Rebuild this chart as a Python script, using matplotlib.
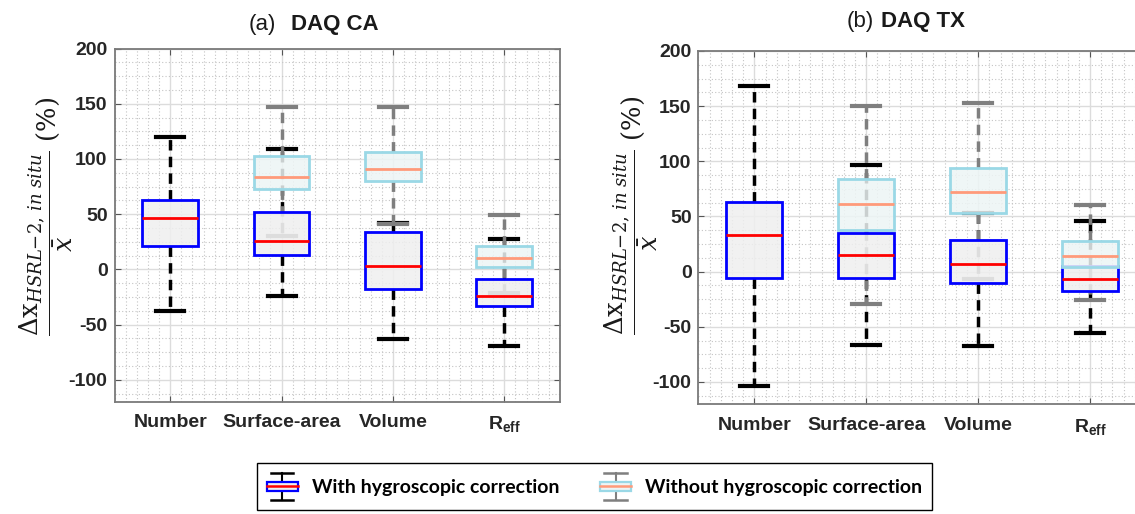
import matplotlib
matplotlib.use('Agg')
import matplotlib.pyplot as plt
from matplotlib.colors import to_rgba
from matplotlib.legend_handler import HandlerBase
from matplotlib.lines import Line2D
from matplotlib.patches import Rectangle
from matplotlib.ticker import MultipleLocator

plt.rcParams['font.family'] = ['Liberation Sans', 'DejaVu Sans']
plt.rcParams['axes.unicode_minus'] = False
plt.rcParams['mathtext.fontset'] = 'custom'
plt.rcParams['mathtext.rm'] = 'DejaVu Serif'
plt.rcParams['mathtext.it'] = 'DejaVu Serif:italic'
plt.rcParams['mathtext.bf'] = 'Liberation Sans:bold'

categories = ['Number', 'Surface-area', 'Volume', r'$\mathbf{R_{eff}}$']
stat_keys = ['whislo', 'q1', 'med', 'q3', 'whishi']

# [whisker low, q1, median, q3, whisker high] in %
ca_with = [[-38, 21, 47, 63, 120],
           [-24, 13.5, 26, 52, 109],
           [-63, -18, 3.5, 34, 42],
           [-69, -33, -24, -9, 28]]
# number is not affected by the correction -> only the last three
ca_without = [[30, 73, 84, 103, 147],
              [41, 80, 90.5, 106, 147],
              [-21, 2, 10, 21.5, 49]]

tx_with = [[-104, -6, 33, 63, 168],
           [-66.5, -6, 15.5, 35, 97],
           [-67.5, -10, 7, 28.5, 53],
           [-55.5, -17.5, -7, 5, 46]]
tx_without = [[-29, 38, 61.5, 84, 150],
              [-7, 53, 72.5, 94, 153],
              [-26, 4.5, 14.5, 27.5, 60]]

ylabel = r'$\dfrac{\Delta\mathrm{x}_{HSRL{-}2,\,in\ situ}}{\bar{x}}\ (\%)$'


def to_stats(rows):
    return [dict(zip(stat_keys, r), fliers=[]) for r in rows]


def draw_series(ax, rows, positions, edge, face, median, whisk, z):
    parts = ax.bxp(to_stats(rows), positions=positions, widths=0.5, capwidths=0.25,
                   patch_artist=True, showfliers=False,
                   boxprops=dict(facecolor=to_rgba(face, 0.85), edgecolor=edge, linewidth=2),
                   medianprops=dict(color=median, linewidth=2),
                   whiskerprops=dict(color=whisk, linewidth=2.5, linestyle=(0, (3, 1.8))),
                   capprops=dict(color=whisk, linewidth=3))
    for a in parts['whiskers'] + parts['caps']:
        a.set_zorder(2)
    for a in parts['boxes']:
        a.set_zorder(z)
    for a in parts['medians']:
        a.set_zorder(z + 0.5)


def style_axes(ax):
    ax.set_xlim(0.5, 4.5)
    ax.set_ylim(-120, 200)
    ax.set_xticks([1, 2, 3, 4])
    ax.set_xticklabels(categories)
    ax.set_yticks([-100, -50, 0, 50, 100, 150, 200])
    ax.yaxis.set_minor_locator(MultipleLocator(12.5))
    ax.xaxis.set_minor_locator(MultipleLocator(0.1))
    ax.grid(which='major', color='#dcdcdc', linewidth=1.0, linestyle='-')
    ax.grid(which='minor', color='#c4c4c4', linewidth=0.8, linestyle=(0, (1, 2)))
    ax.set_axisbelow(True)
    ax.tick_params(which='major', direction='in', length=4, top=True, right=True,
                   color='#555555', labelsize=14, labelcolor='#262626')
    ax.tick_params(which='minor', direction='in', length=0)
    ax.tick_params(axis='x', pad=9)
    ax.tick_params(axis='y', pad=5)
    for lab in ax.get_xticklabels() + ax.get_yticklabels():
        lab.set_fontweight('bold')
    for s in ax.spines.values():
        s.set_color('#7a7a7a')
        s.set_linewidth(1.3)


class BoxGlyph:
    def __init__(self, edge, face, median, whisk):
        self.edge, self.face, self.median, self.whisk = edge, face, median, whisk


class BoxGlyphHandler(HandlerBase):
    def create_artists(self, legend, h, xdescent, ydescent, width, height, fontsize, trans):
        x0, y0 = -xdescent, -ydescent
        cx = x0 + width / 2
        bl, bt = y0 + 0.34 * height, y0 + 0.66 * height
        cw = 0.36 * width
        arts = [
            Line2D([cx, cx], [y0, bl], color=h.whisk, lw=1.5),
            Line2D([cx, cx], [bt, y0 + height], color=h.whisk, lw=1.5),
            Line2D([cx - cw, cx + cw], [y0, y0], color=h.whisk, lw=1.8),
            Line2D([cx - cw, cx + cw], [y0 + height, y0 + height], color=h.whisk, lw=1.8),
            Rectangle((x0, bl), width, bt - bl, facecolor=h.face, edgecolor=h.edge, lw=1.6),
            Line2D([x0, x0 + width], [(bl + bt) / 2] * 2, color=h.median, lw=1.8),
        ]
        for a in arts:
            a.set_transform(trans)
        return arts


fig = plt.figure(figsize=(11.35, 5.14), dpi=100)
ax1 = fig.add_axes([0.1009, 0.2179, 0.3925, 0.6877])
ax2 = fig.add_axes([0.6154, 0.2140, 0.3943, 0.6868])

blue = dict(edge='#0000ff', face='#efefef', median='#ff0000', whisk='black')
cyan = dict(edge='#9ad8e6', face='#edf5f5', median='#ff9a7a', whisk='#7f7f7f')

draw_series(ax1, ca_with, [1, 2, 3, 4], z=3, **blue)
draw_series(ax1, ca_without, [2, 3, 4], z=4, **cyan)
draw_series(ax2, tx_with, [1, 2, 3, 4], z=3, **blue)
draw_series(ax2, tx_without, [2, 3, 4], z=4, **cyan)

for ax, lx, ly in [(ax1, -0.088, 0.526), (ax2, -0.087, 0.535)]:
    style_axes(ax)
    ax.set_ylabel(ylabel, fontsize=18.5, color='#1a1a1a')
    ax.yaxis.set_label_coords(lx, ly)

fig.text(276 / 1135, 1 - 24 / 514, '(a)', ha='right', va='center', fontsize=16, color='#1a1a1a')
fig.text(291 / 1135, 1 - 24 / 514, 'DAQ CA', ha='left', va='center', fontsize=16,
         fontweight='bold', color='#1a1a1a')
fig.text(874 / 1135, 1 - 22 / 514, '(b)', ha='right', va='center', fontsize=16, color='#1a1a1a')
fig.text(881 / 1135, 1 - 22 / 514, 'DAQ TX', ha='left', va='center', fontsize=16,
         fontweight='bold', color='#1a1a1a')

handles = [BoxGlyph(**blue), BoxGlyph(**cyan)]
labels = ['With hygroscopic correction', 'Without hygroscopic correction']
leg = fig.legend(handles, labels, loc='upper center', bbox_to_anchor=(0.5238, 1 - 463 / 514),
                 ncol=2, frameon=True, fancybox=False, edgecolor='black', framealpha=1,
                 prop=dict(family='Lato', weight='bold', size=14),
                 handler_map={BoxGlyph: BoxGlyphHandler()},
                 handlelength=1.6, handleheight=1.8, handletextpad=0.72,
                 columnspacing=2.1, borderpad=0.5, borderaxespad=0)
leg.get_frame().set_linewidth(1.0)

fig.savefig('out.png', dpi=100)
